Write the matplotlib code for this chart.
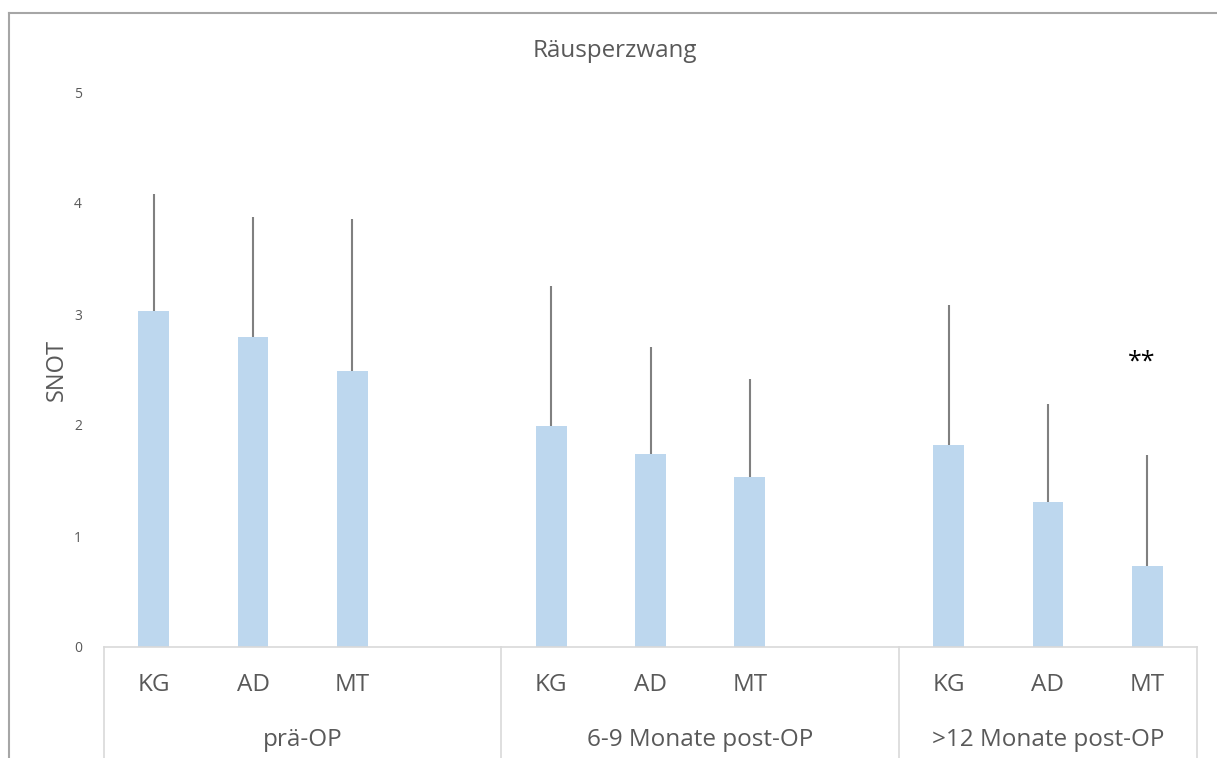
import matplotlib
matplotlib.use("Agg")
import matplotlib.pyplot as plt
from matplotlib.lines import Line2D

plt.rcParams['font.family'] = ['Open Sans', 'DejaVu Sans']

# Data
groups = ["prä-OP", "6-9 Monate post-OP", ">12 Monate post-OP"]
categories = ["KG", "AD", "MT"]
means_pre = [3.03, 2.79, 2.49]
means_69 = [1.99, 1.74, 1.53]
means_12 = [1.82, 1.31, 0.73]
err_pre = [1.05, 1.08, 1.37]
err_69 = [1.26, 0.96, 0.88]
err_12 = [1.26, 0.88, 1.00]
yticks = [0, 1, 2, 3, 4, 5]
title = "Räusperzwang"
ylabel = "SNOT"
annotation = "**"

means = [means_pre, means_69, means_12]
errs = [err_pre, err_69, err_12]

W, H = 1217, 758
fig = plt.figure(figsize=(W / 100, H / 100), dpi=100)
ax = fig.add_axes([104 / W, 1 - 647 / H, (1197 - 104) / W, (647 - 92) / H])

text_col = "#595959"
bar_col = "#BDD7EE"
line_col = "#D9D9D9"

slots = len(categories) + 1
for gi, (m, e) in enumerate(zip(means, errs)):
    xs = [gi * slots + ci for ci in range(len(categories))]
    ax.bar(xs, m, width=0.31, color=bar_col, zorder=2)
    ax.errorbar(xs, m, yerr=[[0] * len(e), e], fmt="none", ecolor="#808080",
                elinewidth=1.5, capsize=0, zorder=3)

n_slots = slots * len(groups) - 1
ax.set_xlim(-0.5, n_slots - 0.5)
ax.set_ylim(0, 5)
ax.set_yticks(yticks)
ax.set_yticklabels([str(t) for t in yticks], fontsize=10, color=text_col)
ax.tick_params(axis='y', length=0, pad=16)
ax.set_xticks([])
for s in ["top", "right", "left"]:
    ax.spines[s].set_visible(False)
ax.spines["bottom"].set_color(line_col)
ax.spines["bottom"].set_linewidth(1.2)

tr = ax.get_xaxis_transform()
# category labels
for gi in range(len(groups)):
    for ci, c in enumerate(categories):
        ax.text(gi * slots + ci, -0.069, c, transform=tr, ha="center", va="center",
                fontsize=17.5, color=text_col)
# group dividers and labels
bounds = [-0.5]
for gi in range(len(groups)):
    end = min(gi * slots + slots - 0.5, n_slots - 0.5)
    bounds.append(end)
for b in bounds:
    ax.add_line(Line2D([b, b], [0, -0.25], transform=tr, color=line_col,
                       linewidth=1.2, clip_on=False))
for gi, g in enumerate(groups):
    cx = (bounds[gi] + bounds[gi + 1]) / 2
    ax.text(cx, -0.168, g, transform=tr, ha="center", va="center",
            fontsize=17.5, color=text_col)

# significance annotation
ax.text(2 * slots + 2 - 0.06, 2.57, annotation, ha="center", va="center",
        fontsize=18, color="black")

ax.set_ylabel(ylabel, fontsize=17, color=text_col)
ax.yaxis.set_label_coords(-(104 - 69) / (1197 - 104), 0.5)

fig.text(615 / W, 1 - 51 / H, title, ha="center", va="center",
         fontsize=17.4, color=text_col)

# outer frame (cropped at right/bottom)
fig.add_artist(Line2D([9 / W, 9 / W], [0, 1 - 13 / H], transform=fig.transFigure,
                      color="#A6A6A6", linewidth=1.5))
fig.add_artist(Line2D([9 / W, 1], [1 - 13 / H, 1 - 13 / H], transform=fig.transFigure,
                      color="#A6A6A6", linewidth=1.5))

fig.savefig("out.png", dpi=100)
